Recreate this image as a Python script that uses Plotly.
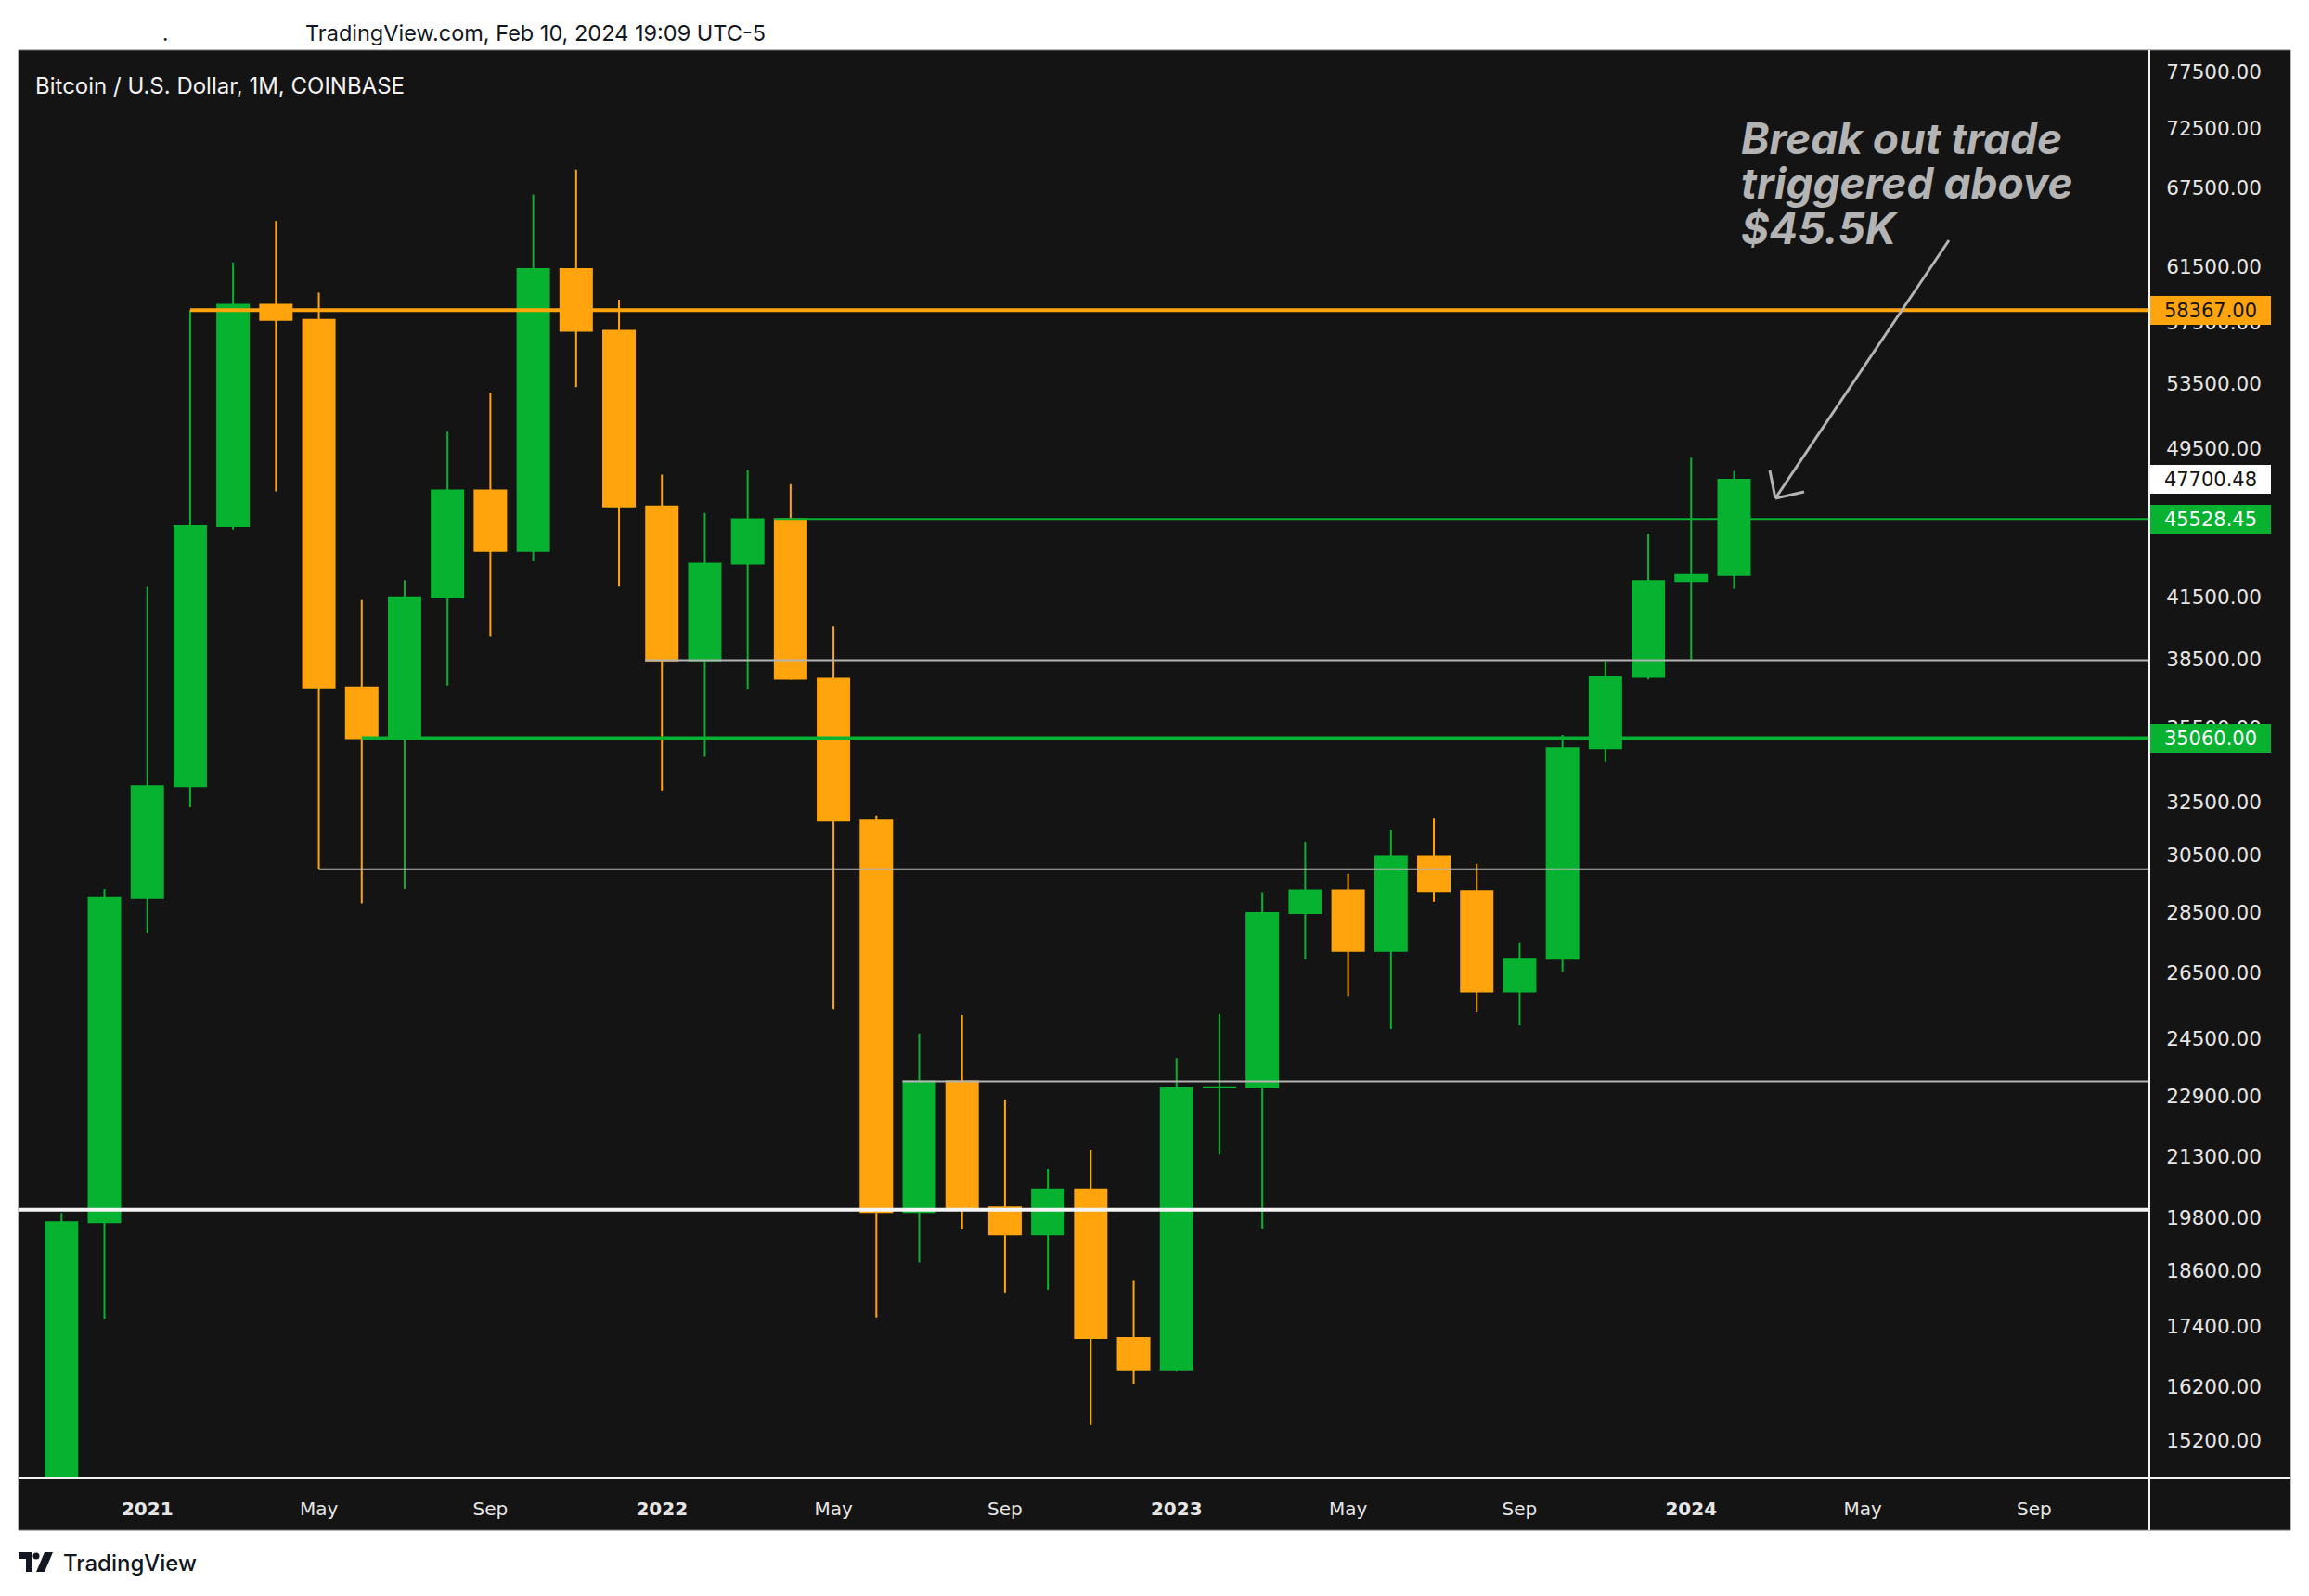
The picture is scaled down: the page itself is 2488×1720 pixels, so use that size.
import math
import plotly.graph_objects as go

# ---------------- data ----------------
months = ["2020-11", "2020-12",
          "2021-01", "2021-02", "2021-03", "2021-04", "2021-05", "2021-06",
          "2021-07", "2021-08", "2021-09", "2021-10", "2021-11", "2021-12",
          "2022-01", "2022-02", "2022-03", "2022-04", "2022-05", "2022-06",
          "2022-07", "2022-08", "2022-09", "2022-10", "2022-11", "2022-12",
          "2023-01", "2023-02", "2023-03", "2023-04", "2023-05", "2023-06",
          "2023-07", "2023-08", "2023-09", "2023-10", "2023-11", "2023-12",
          "2024-01", "2024-02"]

open_ = [13797, 19700, 28990, 33114, 45137, 58740, 57694, 37253, 35060, 41461,
         47100, 43823, 61300, 56950, 46211, 38467, 43160, 45510, 37630, 31790,
         19942, 23300, 20050, 19423, 20490, 17165, 16537, 23130, 23140, 28470,
         29250, 27220, 30470, 29230, 25930, 26960, 34650, 37720, 42280, 42580]
high = [19918, 29300, 41986, 58367, 61788, 64895, 59592, 41330, 42316, 50500,
        52920, 67000, 69000, 59100, 47990, 45855, 48240, 47444, 40050, 31986,
        24668, 25211, 22799, 20990, 21480, 18390, 23960, 25250, 29190, 31000,
        29830, 31430, 31860, 30200, 27490, 35200, 38430, 44730, 48970, 48200]
low = [13200, 17560, 27800, 32296, 44950, 47044, 30000, 28800, 29300, 37332,
       39600, 43283, 53256, 42000, 32950, 34300, 37155, 37580, 25400, 17592,
       18780, 19540, 18125, 18180, 15476, 16250, 16490, 21350, 19550, 26940,
       25800, 24800, 28860, 25300, 24900, 26540, 34100, 37600, 38500, 41880]
close = [19700, 28990, 33114, 45137, 58740, 57694, 37253, 35060, 41461, 47100,
         43823, 61300, 56950, 46211, 38467, 43160, 45510, 37630, 31790, 19942,
         23300, 20050, 19423, 20490, 17165, 16537, 23130, 23140, 28470, 29250,
         27220, 30470, 29230, 25930, 26960, 34650, 37720, 42280, 42580, 47700.48]

# horizontal levels drawn on the chart: value, start month, start offset
level_values = [58367.00, 45528.45, 38470, 35060.00, 30000, 23300, 20000]
level_start_month = ["2021-02", "2022-04", "2022-01", "2021-06", "2021-05", "2022-07", None]
level_start_offset = [0.0, -0.39, -0.39, 0.0, 0.0, -0.39, 0.0]
level_colors = ["#ffa40c", "#06b230", "#b4b4b4", "#06b230", "#b4b4b4", "#b4b4b4", "#f4f4f4"]
level_widths = [4, 2, 2, 4, 2, 2, 4]

# price-axis tags
tag_values = [58367.00, 47700.48, 45528.45, 35060.00]
tag_bg = ["#ffa40c", "#ffffff", "#06b230", "#06b230"]
tag_fg = ["#141414", "#141414", "#ffffff", "#ffffff"]

price_ticks = [77500, 72500, 67500, 61500, 57500, 53500, 49500, 45500, 41500,
               38500, 35500, 32500, 30500, 28500, 26500, 24500, 22900, 21300,
               19800, 18600, 17400, 16200, 15200]

time_tick_months = ["2021-01", "2021-05", "2021-09", "2022-01", "2022-05", "2022-09",
                    "2023-01", "2023-05", "2023-09", "2024-01", "2024-05", "2024-09"]
time_tick_labels = ["<b>2021</b>", "May", "Sep", "<b>2022</b>", "May", "Sep",
                    "<b>2023</b>", "May", "Sep", "<b>2024</b>", "May", "Sep"]

# ---------------- layout geometry ----------------
PAGE_PAD = 8                      # default body margin of the html page
W, H = 2488 - PAGE_PAD, 1720 - PAGE_PAD
PL, PR, PT, PB = 20, 2316, 54, 1592   # plot area in page pixels
ML, MT = PL - PAGE_PAD, PT - PAGE_PAD
MR, MB = W - (PR - PAGE_PAD), H - (PB - PAGE_PAD)
PW, PH = PR - PL, PB - PT
PX_PER_MONTH = 46.21
FIRST_CENTER_PX = 66.3

BG = "#141414"
GREEN = "#06b230"
ORANGE = "#ffa40c"


def month_index(m):
    y, mo = int(m[:4]), int(m[5:7])
    y0, m0 = int(months[0][:4]), int(months[0][5:7])
    return (y - y0) * 12 + (mo - m0)


x_idx = [month_index(m) for m in months]
x_left = -(FIRST_CENTER_PX - PL) / PX_PER_MONTH
x_right = x_left + PW / PX_PER_MONTH

y_top_price = 79557
y_bot_price = 14543


def pxx(x):
    return (x - PL) / PW


def pxy(y):
    return (PB - y) / PH


fig = go.Figure()

fig.add_trace(go.Candlestick(
    x=x_idx, open=open_, high=high, low=low, close=close,
    increasing=dict(line=dict(color=GREEN, width=2), fillcolor=GREEN),
    decreasing=dict(line=dict(color=ORANGE, width=2), fillcolor=ORANGE),
    whiskerwidth=0, showlegend=False, hoverinfo="skip",
))

for v, sm, off, c, w in zip(level_values, level_start_month, level_start_offset,
                            level_colors, level_widths):
    x0 = x_left if sm is None else month_index(sm) + off
    fig.add_trace(go.Scatter(x=[x0, x_right], y=[v, v], mode="lines",
                             line=dict(color=c, width=w), showlegend=False,
                             hoverinfo="skip", cliponaxis=True))

shapes = []
# dark frame
shapes.append(dict(type="rect", xref="paper", yref="paper",
                   x0=pxx(20), x1=pxx(2468), y0=pxy(1649), y1=pxy(54),
                   fillcolor=BG, line=dict(color="#707070", width=1), layer="below"))
# separators
shapes.append(dict(type="line", xref="paper", yref="paper",
                   x0=pxx(2316), x1=pxx(2316), y0=pxy(1649), y1=pxy(54),
                   line=dict(color="#f2f2f2", width=2)))
shapes.append(dict(type="line", xref="paper", yref="paper",
                   x0=pxx(20), x1=pxx(2468), y0=pxy(1593), y1=pxy(1593),
                   line=dict(color="#f2f2f2", width=2)))
# arrow
ARROW = "#b4b4b4"
for (xa, ya, xb, yb) in [(2100, 259, 1913, 537), (1913, 537, 1907, 507), (1913, 537, 1944, 530)]:
    shapes.append(dict(type="line", xref="paper", yref="paper",
                       x0=pxx(xa), y0=pxy(ya), x1=pxx(xb), y1=pxy(yb),
                       line=dict(color=ARROW, width=3)))


# TradingView logo glyph
def path(pts):
    return "M " + " L ".join(f"{pxx(a):.6f},{pxy(b):.6f}" for a, b in pts) + " Z"


shapes.append(dict(type="path", xref="paper", yref="paper",
                   path=path([(20, 1673), (34, 1673), (34, 1694), (28, 1694), (28, 1680), (20, 1680)]),
                   fillcolor="#131722", line=dict(width=0)))
shapes.append(dict(type="circle", xref="paper", yref="paper",
                   x0=pxx(35.5), x1=pxx(42.5), y0=pxy(1680.5), y1=pxy(1673.5),
                   fillcolor="#131722", line=dict(width=0)))
shapes.append(dict(type="path", xref="paper", yref="paper",
                   path=path([(48, 1673), (57, 1673), (48, 1694), (39, 1694)]),
                   fillcolor="#131722", line=dict(width=0)))

annotations = []
annotations.append(dict(xref="paper", yref="paper", x=pxx(327), y=pxy(35),
                        xanchor="left", yanchor="middle", showarrow=False,
                        text="TradingView.com, Feb 10, 2024 19:09 UTC-5",
                        font=dict(family="Inter", size=23.5, color="#131722")))
annotations.append(dict(xref="paper", yref="paper", x=pxx(173), y=pxy(36),
                        xanchor="left", yanchor="middle", showarrow=False,
                        text=".", font=dict(family="Inter", size=22, color="#131722")))
annotations.append(dict(xref="paper", yref="paper", x=pxx(36), y=pxy(92),
                        xanchor="left", yanchor="middle", showarrow=False,
                        text="Bitcoin / U.S. Dollar, 1M, COINBASE",
                        font=dict(family="Inter", size=24, color="#f2f2f2")))
annotations.append(dict(xref="paper", yref="paper", x=pxx(66), y=pxy(1684),
                        xanchor="left", yanchor="middle", showarrow=False,
                        text="TradingView",
                        font=dict(family="Inter", size=24, color="#131722", weight=500)))

note_lines = ["Break out trade", "triggered above", "$45.5K"]
note_y = [149, 197, 246]
for t, yy in zip(note_lines, note_y):
    annotations.append(dict(xref="paper", yref="paper", x=pxx(1874), y=pxy(yy),
                            xanchor="left", yanchor="middle", showarrow=False,
                            text=t,
                            font=dict(family="Inter", size=46, color="#b4b4b4",
                                      weight="bold", style="italic")))

for v, bg, fg in zip(tag_values, tag_bg, tag_fg):
    annotations.append(dict(xref="paper", yref="y", x=pxx(2317), y=math.log10(v),
                            xanchor="left", yanchor="middle", showarrow=False,
                            text=f"{v:.2f}", bgcolor=bg, borderpad=2, borderwidth=0,
                            width=126, height=27, align="center",
                            font=dict(family="DejaVu Sans", size=21, color=fg)))

fig.update_layout(
    width=W, height=H,
    margin=dict(l=ML, r=MR, t=MT, b=MB, pad=0),
    paper_bgcolor="#ffffff",
    plot_bgcolor=BG,
    boxgap=1 - 34 / PX_PER_MONTH, boxgroupgap=0,
    showlegend=False,
    shapes=shapes,
    annotations=annotations,
    xaxis=dict(
        range=[x_left, x_right], showgrid=False, zeroline=False, showline=False,
        rangeslider=dict(visible=False),
        tickmode="array",
        tickvals=[month_index(m) for m in time_tick_months],
        ticktext=time_tick_labels,
        ticks="outside", ticklen=16, tickcolor="rgba(0,0,0,0)",
        tickfont=dict(family="DejaVu Sans", size=20, color="#e6e6e6"),
    ),
    yaxis=dict(
        type="log", side="right",
        range=[math.log10(y_bot_price), math.log10(y_top_price)],
        showgrid=False, zeroline=False, showline=False,
        tickmode="array", tickvals=price_ticks,
        ticktext=[f"{v:.2f}" for v in price_ticks],
        ticks="outside", ticklen=13, tickcolor="rgba(0,0,0,0)",
        tickfont=dict(family="DejaVu Sans", size=21.5, color="#e6e6e6"),
    ),
)

fig.write_html("out.html")
